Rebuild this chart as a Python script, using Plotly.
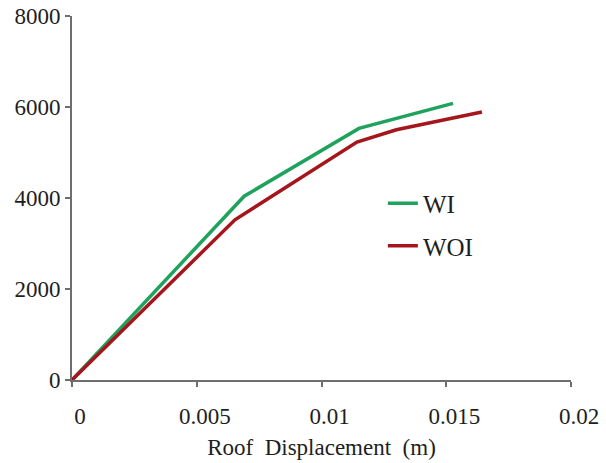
import plotly.graph_objects as go

# Data
wi_x = [0.0, 0.0069, 0.0115, 0.01527]
wi_y = [0, 4040, 5530, 6080]
woi_x = [0.0, 0.00653, 0.01142, 0.0130, 0.01643]
woi_y = [0, 3520, 5230, 5500, 5890]

x_ticks = [0, 0.005, 0.01, 0.015, 0.02]
x_ticklabels = ["0", "0.005", "0.01", "0.015", "0.02"]
y_ticks = [0, 2000, 4000, 6000, 8000]
y_ticklabels = ["0", "2000", "4000", "6000", "8000"]

FONT = "Liberation Serif"
AXIS_COLOR = "#6e6e6e"
TEXT = "#1e1e1e"

fig = go.Figure()
fig.add_trace(go.Scatter(x=wi_x, y=wi_y, mode="lines", name="WI",
                         legendgroup="a",
                         line=dict(color="#1fa25c", width=3.5)))
fig.add_trace(go.Scatter(x=woi_x, y=woi_y, mode="lines", name="WOI",
                         legendgroup="b",
                         line=dict(color="#a5161c", width=3.5)))

fig.update_layout(
    width=606, height=463,
    margin=dict(l=72, r=35, t=16, b=83, autoexpand=False),
    paper_bgcolor="white", plot_bgcolor="white",
    font=dict(family=FONT, size=22, color=TEXT),
    showlegend=True,
    legend=dict(x=0.623, y=0.548, xanchor="left", yanchor="top",
                bgcolor="rgba(0,0,0,0)", tracegroupgap=7,
                font=dict(family=FONT, size=25, color=TEXT)),
    xaxis=dict(range=[0, 0.02], tickvals=x_ticks, ticktext=x_ticklabels,
               automargin=False,
               showgrid=False, zeroline=False, showline=True,
               linecolor=AXIS_COLOR, linewidth=2,
               ticks="outside", ticklen=5, tickwidth=1.5, tickcolor=AXIS_COLOR,
               ticklabelstandoff=9, ticklabelshift=8,
               tickfont=dict(family=FONT, size=23, color=TEXT),
               title=dict(text="Roof  Displacement  (m)", standoff=11,
                          font=dict(family=FONT, size=23, color=TEXT))),
    yaxis=dict(range=[0, 8000], tickvals=y_ticks, ticktext=y_ticklabels,
               automargin=False,
               showgrid=False, zeroline=False, showline=True,
               linecolor=AXIS_COLOR, linewidth=2,
               ticks="outside", ticklen=5, tickwidth=1.5, tickcolor=AXIS_COLOR,
               tickfont=dict(family=FONT, size=23, color=TEXT),
               ticklabelstandoff=0),
)

fig.write_html("out.html")
